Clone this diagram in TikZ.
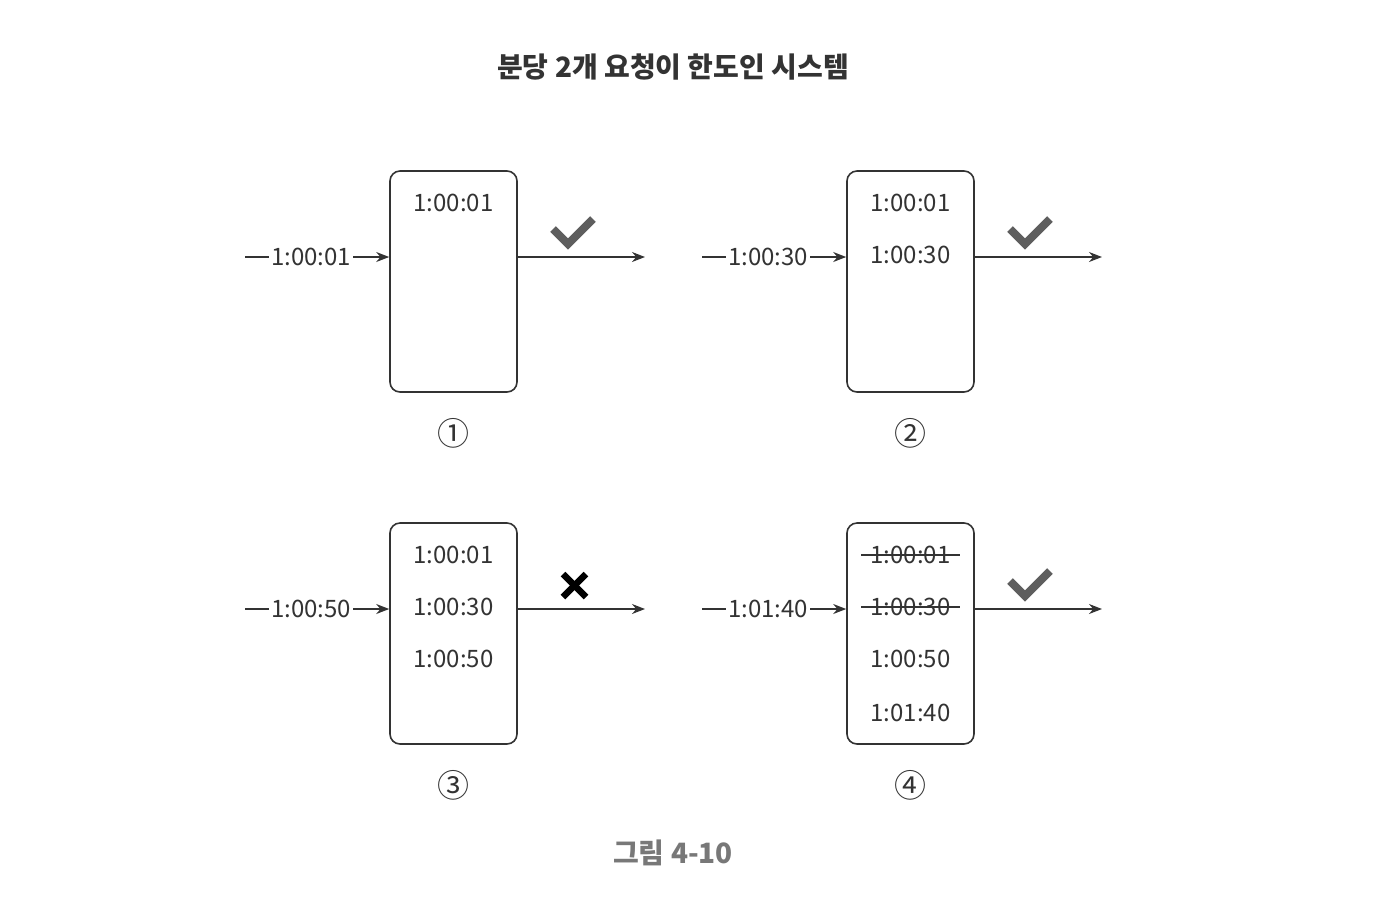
\documentclass[tikz,border=0pt]{standalone}
\usepackage{fontspec}
\setmainfont{Noto Sans CJK KR}
\usetikzlibrary{arrows.meta, positioning}
\definecolor{darkline}{rgb}{0.2, 0.2, 0.2}
\definecolor{checkgray}{rgb}{0.37, 0.37, 0.37}
\definecolor{capgray}{rgb}{0.47, 0.47, 0.47}

\begin{document}
\begin{tikzpicture}[x=0.5pt, y=-0.5pt, font=\fontsize{12}{14}\selectfont, text=darkline]
        \tikzstyle{box} = [rectangle, draw=darkline, line width=0.8pt, rounded corners=5pt, minimum width=63.5pt, minimum height=110.5pt, inner sep=0pt]
        \tikzstyle{stamp} = [inner sep=0pt]
        \tikzstyle{flow} = [draw=darkline, line width=0.7pt, -{Stealth[length=6.5pt, width=5pt]}]
        \tikzstyle{tag} = [fill=white, inner sep=1pt, pos=0.46]
        \tikzstyle{check} = [draw=checkgray, line width=4pt]
        \tikzstyle{cross} = [draw=black, line width=3.2pt]
        \tikzstyle{circled} = [font=\fontsize{16}{18}\selectfont]

        \useasboundingbox (0,0) rectangle (1378,902);

        \node[font=\bfseries\fontsize{14}{16}\selectfont] (title) at (673,67) {분당 2개 요청이 한도인 시스템};

        \node[box] (box1) at (453.5,281.5) {};
        \node[box] (box2) at (910.5,281.5) {};
        \node[box] (box3) at (453.5,633.5) {};
        \node[box] (box4) at (910.5,633.5) {};

        \coordinate (in1) at (245,257);
        \coordinate (out1) at (645,257);
        \coordinate (in2) at (702,257);
        \coordinate (out2) at (1102,257);
        \coordinate (in3) at (245,609);
        \coordinate (out3) at (645,609);
        \coordinate (in4) at (702,609);
        \coordinate (out4) at (1102,609);

        \draw[flow] (in1) -- node[tag]{1:00:01} (in1 -| box1.west);
        \draw[flow] (in2) -- node[tag]{1:00:30} (in2 -| box2.west);
        \draw[flow] (in3) -- node[tag]{1:00:50} (in3 -| box3.west);
        \draw[flow] (in4) -- node[tag]{1:01:40} (in4 -| box4.west);

        \foreach \n in {1,...,4}
            \draw[flow] (in\n -| box\n.east) -- (out\n);

        \node[stamp] (t11) at (453.5,203) {1:00:01};

        \node[stamp] (t21) at (910.5,203) {1:00:01};
        \node[stamp] (t22) at (910.5,255) {1:00:30};

        \node[stamp] (t31) at (453.5,555) {1:00:01};
        \node[stamp] (t32) at (453.5,607) {1:00:30};
        \node[stamp] (t33) at (453.5,659) {1:00:50};

        \node[stamp] (t41) at (910.5,555) {1:00:01};
        \node[stamp] (t42) at (910.5,607) {1:00:30};
        \node[stamp] (t43) at (910.5,659) {1:00:50};
        \node[stamp] (t44) at (910.5,713) {1:01:40};

        \draw[darkline, line width=0.8pt] ([xshift=-4.5pt]t41.west) -- ([xshift=4.5pt]t41.east);
        \draw[darkline, line width=0.8pt] ([xshift=-4.5pt]t42.west) -- ([xshift=4.5pt]t42.east);

        \draw[check] (553,229) -- (568,244) -- (593,219);
        \draw[check] (1010,229) -- (1025,244) -- (1050,219);
        \draw[check] (1010,581) -- (1025,596) -- (1050,571);

        \draw[cross] (563,574) -- (586,597);
        \draw[cross] (586,574) -- (563,597);

        \node[circled] (c1) at (453.5,433) {①};
        \node[circled] (c2) at (910.5,433) {②};
        \node[circled] (c3) at (453.5,785) {③};
        \node[circled] (c4) at (910.5,785) {④};

        \node[font=\bfseries\fontsize{14}{16}\selectfont, text=capgray] (caption) at (673,853) {그림 4-10};

    \end{tikzpicture}
\end{document}
